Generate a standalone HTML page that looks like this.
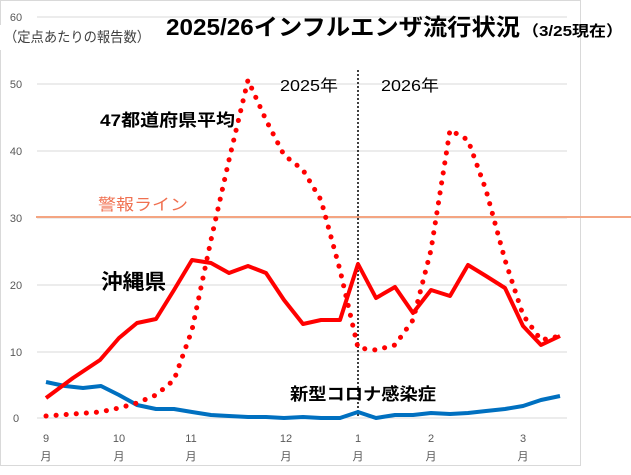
<!DOCTYPE html><html><head><meta charset="utf-8"><style>body{margin:0;background:#fff}svg text{font-family:"Liberation Sans","Noto Sans CJK JP",sans-serif}</style></head><body>
<svg width="631" height="470" viewBox="0 0 631 470">
<rect x="0.5" y="0.5" width="580" height="465" fill="#fff" stroke="#d9d9d9"/>
<g stroke="#d9d9d9" stroke-width="1">
<line x1="37" y1="17" x2="567" y2="17"/><line x1="37" y1="84" x2="567" y2="84"/><line x1="37" y1="151" x2="567" y2="151"/><line x1="37" y1="218" x2="567" y2="218"/><line x1="37" y1="285" x2="567" y2="285"/><line x1="37" y1="352" x2="567" y2="352"/><line x1="37" y1="418" x2="567" y2="418"/></g>
<rect x="0" y="25" width="160" height="25" fill="#fff"/>
<g font-size="11" fill="#595959" text-anchor="middle"><text x="16" y="21">60</text><text x="16" y="88">50</text><text x="16" y="155">40</text><text x="16" y="222">30</text><text x="16" y="289">20</text><text x="16" y="356">10</text><text x="16" y="422">0</text>
<text x="46" y="442">9</text><text x="46" y="460">月</text><text x="119" y="442">10</text><text x="119" y="460">月</text><text x="191" y="442">11</text><text x="191" y="460">月</text><text x="286" y="442">12</text><text x="286" y="460">月</text><text x="358" y="442">1</text><text x="358" y="460">月</text><text x="431" y="442">2</text><text x="431" y="460">月</text><text x="523" y="442">3</text><text x="523" y="460">月</text></g>
<text x="4" y="42" font-size="14" fill="#404040" textLength="146" lengthAdjust="spacingAndGlyphs">（定点あたりの報告数）</text>
<text x="166" y="35" font-size="23" font-weight="bold" fill="#000" textLength="354" lengthAdjust="spacingAndGlyphs">2025/26インフルエンザ流行状況</text>
<text x="522" y="36" font-size="15" font-weight="bold" fill="#000" textLength="101" lengthAdjust="spacingAndGlyphs">（3/25現在）</text>
<line x1="36" y1="217" x2="631" y2="217" stroke="#f4a582" stroke-width="2"/>
<text x="98" y="210" font-size="16" fill="#f07050" textLength="90" lengthAdjust="spacingAndGlyphs">警報ライン</text>
<line x1="358" y1="70" x2="358" y2="418" stroke="#000" stroke-width="1.5" stroke-dasharray="2,2"/>
<text x="280" y="91" font-size="16" fill="#000" textLength="58" lengthAdjust="spacingAndGlyphs">2025年</text><text x="381" y="91" font-size="16" fill="#000" textLength="58" lengthAdjust="spacingAndGlyphs">2026年</text>
<text x="100" y="126" font-size="17" font-weight="bold" fill="#000" textLength="135" lengthAdjust="spacingAndGlyphs">47都道府県平均</text>
<text x="101" y="289" font-size="21" font-weight="bold" fill="#000" textLength="65" lengthAdjust="spacingAndGlyphs">沖縄県</text>
<text x="290" y="400" font-size="17" font-weight="bold" fill="#000" textLength="146" lengthAdjust="spacingAndGlyphs">新型コロナ感染症</text>
<polyline fill="none" stroke="#0070c0" stroke-width="4" stroke-linejoin="round" points="46,382 65,386 83,388 101,386 119,395 137,405 156,409 174,409 192,412 211,415 229,416 248,417 266,417 284,418 303,417 321,418 340,418 358,412 376,418 395,415 413,415 431,413 450,414 468,413 486,411 505,409 523,406 541,400 560,396"/>
<polyline fill="none" stroke="#ff0000" stroke-width="4" stroke-linejoin="round" points="46,398 73,378 100,360 119,338 137,323 156,319 174,290 192,260 211,263 229,273 248,266 266,273 284,300 303,324 321,320 340,320 358,264 376,298 395,287 413,313 431,290 450,296 468,265 486,276 505,288 523,326 541,345 560,336"/>
<polyline fill="none" stroke="#ff0000" stroke-width="5" stroke-linecap="round" stroke-dasharray="0.1,10" points="46,416 73,414 100,412 119,408 137,403 156,395 174,380 192,330 211,240 229,160 248,80 266,120 284,155 303,170 321,200 340,270 358,348 376,350 395,345 413,320 431,250 450,130 468,140 486,190 505,260 523,315 541,340 560,336"/>
</svg></body></html>
